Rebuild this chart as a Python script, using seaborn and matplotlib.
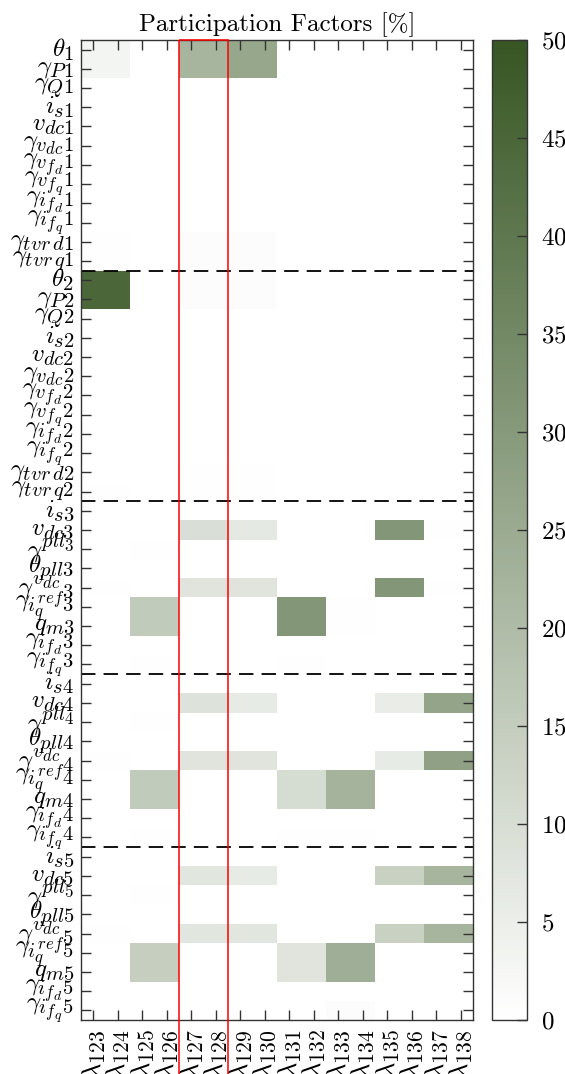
import numpy as np
import pandas as pd
import matplotlib
matplotlib.use("Agg")
import matplotlib.pyplot as plt
import matplotlib._mathtext as _mt
from matplotlib.colors import LinearSegmentedColormap
from matplotlib.patches import Rectangle
import seaborn as sns

plt.rcParams['font.family'] = 'serif'
plt.rcParams['font.serif'] = ['cmr10', 'DejaVu Serif']
plt.rcParams['mathtext.fontset'] = 'cm'
plt.rcParams['axes.unicode_minus'] = False
plt.rcParams['axes.formatter.use_mathtext'] = True
# LaTeX-like (larger) sub/superscripts
_mt.SHRINK_FACTOR = 0.82

# ---- data ----
eig_labels = [r"$\lambda_{%d}$" % k for k in range(123, 139)]

state_labels = [
    r"$\theta_1$", r"$\gamma_{P1}$", r"$\gamma_{Q1}$", r"$i_{s1}$", r"$v_{dc1}$",
    r"$\gamma_{v_{dc}1}$", r"$\gamma_{v_{f_d}1}$", r"$\gamma_{v_{f_q}1}$",
    r"$\gamma_{i_{f_d}1}$", r"$\gamma_{i_{f_q}1}$", r"$\gamma_{tvr\,d1}$", r"$\gamma_{tvr\,q1}$",
    r"$\theta_2$", r"$\gamma_{P2}$", r"$\gamma_{Q2}$", r"$i_{s2}$", r"$v_{dc2}$",
    r"$\gamma_{v_{dc}2}$", r"$\gamma_{v_{f_d}2}$", r"$\gamma_{v_{f_q}2}$",
    r"$\gamma_{i_{f_d}2}$", r"$\gamma_{i_{f_q}2}$", r"$\gamma_{tvr\,d2}$", r"$\gamma_{tvr\,q2}$",
    r"$i_{s3}$", r"$v_{dc3}$", r"$\gamma^{pll_3}$", r"$\theta_{pll3}$",
    r"$\gamma^{v_{dc}}{}_{3}$", r"$\gamma_{i_q^{ref}3}$", r"$q_{m3}$",
    r"$\gamma_{i_{f_d}3}$", r"$\gamma_{i_{f_q}3}$",
    r"$i_{s4}$", r"$v_{dc4}$", r"$\gamma^{pll_4}$", r"$\theta_{pll4}$",
    r"$\gamma^{v_{dc}}{}_{4}$", r"$\gamma_{i_q^{ref}4}$", r"$q_{m4}$",
    r"$\gamma_{i_{f_d}4}$", r"$\gamma_{i_{f_q}4}$",
    r"$i_{s5}$", r"$v_{dc5}$", r"$\gamma^{pll_5}$", r"$\theta_{pll5}$",
    r"$\gamma^{v_{dc}}{}_{5}$", r"$\gamma_{i_q^{ref}5}$", r"$q_{m5}$",
    r"$\gamma_{i_{f_d}5}$", r"$\gamma_{i_{f_q}5}$",
]

pf_block1 = [
    [3, 3, 0, 0, 22, 22, 26, 26, 0, 0, 0, 0, 0, 0, 0, 0],
    [3, 3, 0, 0, 22, 22, 26, 26, 0, 0, 0, 0, 0, 0, 0, 0],
    [0, 0, 0, 0, 0, 0, 0, 0, 0, 0, 0, 0, 0, 0, 0, 0],
    [0, 0, 0, 0, 0, 0, 0, 0, 0, 0, 0, 0, 0, 0, 0, 0],
    [0, 0, 0, 0, 0, 0, 0, 0, 0, 0, 0, 0, 0, 0, 0, 0],
    [0, 0, 0, 0, 0, 0, 0, 0, 0, 0, 0, 0, 0, 0, 0, 0],
    [0, 0, 0, 0, 0, 0, 0, 0, 0, 0, 0, 0, 0, 0, 0, 0],
    [0, 0, 0, 0, 0, 0, 0, 0, 0, 0, 0, 0, 0, 0, 0, 0],
    [0, 0, 0, 0, 0, 0, 0, 0, 0, 0, 0, 0, 0, 0, 0, 0],
    [0, 0, 0, 0, 0, 0, 0, 0, 0, 0, 0, 0, 0, 0, 0, 0],
    [0.2, 0.2, 0, 0, 0.8, 0.8, 1, 1, 0, 0, 0, 0, 0, 0, 0, 0],
    [0.2, 0.2, 0, 0, 0.8, 0.8, 1, 1, 0, 0, 0, 0, 0, 0, 0, 0],
]
pf_block2 = [
    [45, 45, 0, 0, 0.8, 0.8, 1, 1, 0, 0, 0, 0, 0, 0, 0, 0],
    [45, 45, 0, 0, 0.8, 0.8, 1, 1, 0, 0, 0, 0, 0, 0, 0, 0],
    [0, 0, 0, 0, 0, 0, 0, 0, 0, 0, 0, 0, 0, 0, 0, 0],
    [0, 0, 0, 0, 0, 0, 0, 0, 0, 0, 0, 0, 0, 0, 0, 0],
    [0, 0, 0, 0, 0, 0, 0, 0, 0, 0, 0, 0, 0, 0, 0, 0],
    [0, 0, 0, 0, 0, 0, 0, 0, 0, 0, 0, 0, 0, 0, 0, 0],
    [0, 0, 0, 0, 0, 0, 0, 0, 0, 0, 0, 0, 0, 0, 0, 0],
    [0, 0, 0, 0, 0, 0, 0, 0, 0, 0, 0, 0, 0, 0, 0, 0],
    [0, 0, 0, 0, 0, 0, 0, 0, 0, 0, 0, 0, 0, 0, 0, 0],
    [0, 0, 0, 0, 0, 0, 0, 0, 0, 0, 0, 0, 0, 0, 0, 0],
    [0, 0, 0, 0, 0.4, 0.4, 0.5, 0.5, 0, 0, 0, 0, 0, 0, 0, 0],
    [0.2, 0.2, 0, 0, 0.4, 0.4, 0.5, 0.5, 0, 0, 0, 0, 0, 0, 0, 0],
]
pf_block3 = [
    [0, 0, 0, 0, 0, 0, 0, 0, 0, 0, 0, 0, 0, 0, 0, 0],
    [0, 0, 0, 0, 9.5, 9.5, 6.5, 6.5, 0, 0, 0, 0, 31, 31, 0.5, 0.5],
    [0, 0, 0.3, 0.3, 0, 0, 0, 0, 0, 0, 0, 0, 0, 0, 0, 0],
    [0, 0, 0, 0, 0, 0, 0, 0, 0, 0, 0, 0, 0, 0, 0, 0],
    [0.5, 0.5, 0, 0, 8, 8, 8, 8, 0, 0, 0, 0, 31, 31, 0.5, 0.5],
    [0, 0, 15.5, 15.5, 0, 0, 0, 0, 31, 31, 0.5, 0.5, 0, 0, 0, 0],
    [0, 0, 15.5, 15.5, 0, 0, 0, 0, 31, 31, 0.5, 0.5, 0, 0, 0, 0],
    [0, 0, 0, 0, 0, 0, 0, 0, 0, 0, 0, 0, 0, 0, 0, 0],
    [0, 0, 0.4, 0.4, 0, 0, 0, 0, 0.5, 0.5, 0, 0, 0, 0, 0, 0],
]
pf_block4 = [
    [0, 0, 0, 0, 0, 0, 0, 0, 0, 0, 0, 0, 0, 0, 0, 0],
    [0, 0, 0, 0, 8.5, 8.5, 6, 6, 0, 0, 0, 0, 5.5, 5.5, 27, 27],
    [0, 0, 0.3, 0.3, 0, 0, 0, 0, 0, 0, 0, 0, 0, 0, 0, 0],
    [0, 0, 0, 0, 0, 0, 0, 0, 0, 0, 0, 0, 0, 0, 0, 0],
    [0.5, 0.5, 0, 0, 8, 8, 8, 8, 0, 0, 0, 0, 6, 6, 28, 28],
    [0, 0, 15.5, 15.5, 0, 0, 0, 0, 10.5, 10.5, 22.5, 22.5, 0, 0, 0, 0],
    [0, 0, 15.5, 15.5, 0, 0, 0, 0, 10.5, 10.5, 22.5, 22.5, 0, 0, 0, 0],
    [0, 0, 0, 0, 0, 0, 0, 0, 0, 0, 0, 0, 0, 0, 0, 0],
    [0, 0, 0.4, 0.4, 0, 0, 0, 0, 0.3, 0.3, 0.3, 0.3, 0, 0, 0, 0],
]
pf_block5 = [
    [0, 0, 0, 0, 0, 0, 0, 0, 0, 0, 0, 0, 0, 0, 0, 0],
    [0, 0, 0, 0, 7.5, 7.5, 6, 6, 0, 0, 0, 0, 13.5, 13.5, 22, 22],
    [0, 0, 0.3, 0.3, 0, 0, 0, 0, 0, 0, 0, 0, 0, 0, 0, 0],
    [0, 0, 0, 0, 0, 0, 0, 0, 0, 0, 0, 0, 0, 0, 0, 0],
    [0.4, 0.4, 0, 0, 7.5, 7.5, 7.5, 7.5, 0, 0, 0, 0, 13.5, 13.5, 22, 22],
    [0, 0, 14.5, 14.5, 0, 0, 0, 0, 8, 8, 24, 24, 0, 0, 0, 0],
    [0, 0, 14.5, 14.5, 0, 0, 0, 0, 8, 8, 24, 24, 0, 0, 0, 0],
    [0, 0, 0, 0, 0, 0, 0, 0, 0, 0, 0, 0, 0, 0, 0, 0],
    [0, 0, 0, 0, 0, 0, 0, 0, 0, 0, 0.8, 0.8, 0, 0, 0, 0],
]
block_boundaries = [12, 24, 33, 42]
highlight_cols = [4, 6]

pf = pd.DataFrame(pf_block1 + pf_block2 + pf_block3 + pf_block4 + pf_block5,
                  index=state_labels, columns=eig_labels)

# ---- plot ----
cmap = LinearSegmentedColormap.from_list("wg", ["#ffffff", "#375623"])
fig = plt.figure(figsize=(5.65, 10.74), dpi=100)
ax = fig.add_axes([0.1434, 0.0503, 0.6938, 0.9125])
cax = fig.add_axes([0.8708, 0.0503, 0.062, 0.9125])

sns.heatmap(pf, ax=ax, cbar_ax=cax, cmap=cmap, vmin=0, vmax=50,
            xticklabels=eig_labels, yticklabels=state_labels, linewidths=0)

for s in ax.spines.values():
    s.set_visible(True)
    s.set_linewidth(1.0)
    s.set_color('#333333')

ax.tick_params(axis='both', direction='in', length=7, width=1.0, color='#333333',
               top=True, right=True, labelsize=18)
ax.tick_params(axis='y', pad=5, rotation=0)
ax.tick_params(axis='x', pad=7, rotation=90, labelsize=19)
ax.set_title("Participation Factors [%]", fontsize=18, pad=6)
ax.set_xlabel("")
ax.set_ylabel("")

for b in block_boundaries:
    ax.axhline(b, color='black', lw=1.3, ls=(0, (8, 4.5)))

ax.add_patch(Rectangle((highlight_cols[0], 0), highlight_cols[1] - highlight_cols[0],
                       pf.shape[0] + 5, fill=False, edgecolor='red', lw=1.3, alpha=0.85,
                       clip_on=False, zorder=5))

cbar = ax.collections[0].colorbar
cbar.outline.set_linewidth(1.0)
cbar.outline.set_edgecolor('#333333')
cbar.set_ticks([0, 5, 10, 15, 20, 25, 30, 35, 40, 45, 50])
cax.tick_params(direction='in', length=7, width=1.0, color='#333333', labelsize=18, pad=10)

fig.savefig("out.png", dpi=100)
